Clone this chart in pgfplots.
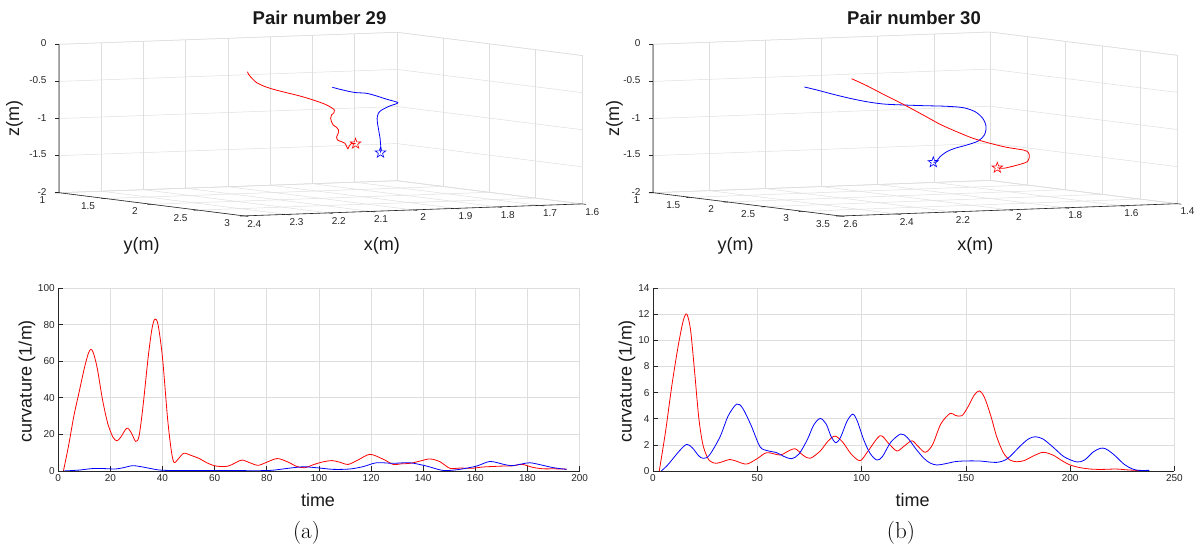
\documentclass[border=0pt]{standalone}
\usepackage{fontspec}
\setsansfont{Liberation Sans}
\usepackage{pgfplots}
\pgfplotsset{compat=1.18}
\definecolor{axgray}{RGB}{38,38,38}
\definecolor{gridgray}{RGB}{222,222,222}
\pgfdeclareplotmark{pstar}{%
  \pgfpathmoveto{\pgfpointpolar{90}{\pgfplotmarksize}}%
  \pgfpathlineto{\pgfpointpolar{126}{0.40\pgfplotmarksize}}%
  \pgfpathlineto{\pgfpointpolar{162}{\pgfplotmarksize}}%
  \pgfpathlineto{\pgfpointpolar{198}{0.40\pgfplotmarksize}}%
  \pgfpathlineto{\pgfpointpolar{234}{\pgfplotmarksize}}%
  \pgfpathlineto{\pgfpointpolar{270}{0.40\pgfplotmarksize}}%
  \pgfpathlineto{\pgfpointpolar{306}{\pgfplotmarksize}}%
  \pgfpathlineto{\pgfpointpolar{342}{0.40\pgfplotmarksize}}%
  \pgfpathlineto{\pgfpointpolar{18}{\pgfplotmarksize}}%
  \pgfpathlineto{\pgfpointpolar{54}{0.40\pgfplotmarksize}}%
  \pgfpathclose\pgfusepathqstroke}
\tikzset{tk/.style={axgray, line width=0.6pt}}
\pgfplotsset{
  my3d/.style={
    disabledatascaling,
    anchor=origin,
    grid=major, major grid style={gridgray, line width=0.5pt},
    axis line style={gridgray, line width=0.5pt},
    tick align=outside, major tick length=4pt,
    major tick style={draw=none},
    tick label style={font=\sffamily\fontsize{10}{12}\selectfont, text=axgray},
    zticklabel style={xshift=-5pt},
    yticklabel style={xshift=-6pt},
    /pgf/number format/assume math mode=true,
    zmin=-2, zmax=0, ztick={-2,-1.5,-1,-0.5,0},
    clip=false,
  },
  my2d/.style={
    scale only axis, anchor=south west,
    width=521.4pt, height=183pt,
    axis x line*=bottom, axis y line*=left,
    axis line style={axgray, line width=0.7pt, -},
    grid=major, major grid style={gridgray, line width=0.6pt},
    tick align=inside, major tick length=5pt,
    major tick style={axgray, line width=0.6pt},
    tick label style={font=\sffamily\fontsize{10}{12}\selectfont, text=axgray},
    /pgf/number format/assume math mode=true,
  },
  redline/.style={red, line width=0.8pt, smooth},
  blueline/.style={blue, line width=0.8pt, smooth},
}
\begin{document}
\begin{tikzpicture}[x=1pt,y=1pt]
\path[use as bounding box] (0,0) rectangle (1203,552);

% ---------------- top left 3D ----------------
\begin{axis}[my3d, at={(397pt,519.7pt)},
  x={(-422.5pt,-15pt)}, y={(92.5pt,-11.6pt)}, z={(0pt,74.2pt)},
  xmin=1.6, xmax=2.4, ymin=1, ymax=3,
  xtick={1.6,1.7,1.8,1.9,2,2.1,2.2,2.3,2.4},
  ytick={1,1.5,2,2.5,3}]
\addplot3[redline] coordinates {
(2.173,2,-0.259) (2.169,2,-0.304) (2.160,2,-0.364) (2.151,2,-0.411) (2.135,2,-0.459)
(2.112,2,-0.508) (2.080,2,-0.561) (2.049,2,-0.611) (2.017,2,-0.672) (1.989,2,-0.735)
(1.974,2,-0.784) (1.967,2,-0.817) (1.968,2,-0.853) (1.974,2,-0.883) (1.976,2,-0.927)
(1.974,2,-0.973) (1.970,2,-1.018) (1.962,2,-1.051) (1.957,2,-1.088) (1.958,2,-1.132)
(1.962,2,-1.186) (1.960,2,-1.222) (1.950,2,-1.247) (1.942,2,-1.270) (1.938,2,-1.317)
(1.935,2,-1.345) (1.932,2,-1.309) (1.926,2,-1.274) (1.917,2,-1.281)};
\addplot3[blueline] coordinates {
(1.972,2,-0.510) (1.954,2,-0.540) (1.930,2,-0.577) (1.914,2,-0.594) (1.891,2,-0.607)
(1.867,2,-0.648) (1.843,2,-0.697) (1.817,2,-0.749) (1.836,2,-0.789) (1.855,2,-0.839)
(1.863,2,-0.882) (1.866,2,-0.949) (1.865,2,-1.017) (1.863,2,-1.084) (1.861,2,-1.152)
(1.859,2,-1.220) (1.858,2,-1.288) (1.857,2,-1.355) (1.858,2,-1.414)};
\addplot3[red, only marks, mark=pstar, mark size=5.5pt, mark options={line width=0.6pt}] coordinates {(1.917,2,-1.281)};
\addplot3[blue, only marks, mark=pstar, mark size=5.5pt, mark options={line width=0.6pt}] coordinates {(1.858,2,-1.414)};
\draw[axgray, line width=0.6pt] (axis cs:2.4,1,0) -- (axis cs:2.4,1,-2) -- (axis cs:2.4,3,-2) -- (axis cs:1.6,3,-2);
\pgfplotsinvokeforeach{-2,-1.5,-1,-0.5,0}{\draw[tk] (axis cs:2.4,1,#1) -- ++(-4pt,0pt);}
\pgfplotsinvokeforeach{1,1.5,2,2.5,3}{\draw[tk] (axis cs:2.4,#1,-2) -- (axis cs:2.41,#1,-2);}
\pgfplotsinvokeforeach{1.6,1.7,1.8,1.9,2,2.1,2.2,2.3,2.4}{\draw[tk] (axis cs:#1,3,-2) -- (axis cs:#1,3.045,-2);}
\end{axis}

% ---------------- top right 3D ----------------
\begin{axis}[my3d, at={(990pt,520pt)},
  x={(-280.8pt,-10.25pt)}, y={(74.9pt,-9.32pt)}, z={(0pt,74.2pt)},
  xmin=1.4, xmax=2.6, ymin=1, ymax=3.5,
  xtick={1.4,1.6,1.8,2,2.2,2.4,2.6},
  ytick={1,1.5,2,2.5,3,3.5}]
\addplot3[blueline] coordinates {
(2.381,2.2,-0.455) (2.337,2.2,-0.501) (2.278,2.2,-0.568) (2.219,2.2,-0.630) (2.159,2.2,-0.684)
(2.100,2.2,-0.723) (2.029,2.2,-0.746) (1.958,2.2,-0.765) (1.874,2.2,-0.785) (1.815,2.2,-0.812)
(1.773,2.2,-0.872) (1.746,2.2,-0.965) (1.734,2.2,-1.079) (1.740,2.2,-1.190) (1.762,2.2,-1.268)
(1.803,2.2,-1.317) (1.845,2.2,-1.355) (1.874,2.2,-1.397) (1.898,2.2,-1.461) (1.912,2.2,-1.527)
(1.922,2.2,-1.533)};
\addplot3[redline] coordinates {
(2.213,2.2,-0.366) (2.159,2.2,-0.468) (2.100,2.2,-0.592) (2.029,2.2,-0.737) (1.958,2.2,-0.891)
(1.898,2.2,-1.024) (1.839,2.2,-1.132) (1.780,2.2,-1.230) (1.720,2.2,-1.305) (1.661,2.2,-1.367)
(1.601,2.2,-1.412) (1.584,2.2,-1.445) (1.580,2.2,-1.505) (1.587,2.2,-1.571) (1.613,2.2,-1.603)
(1.649,2.2,-1.634) (1.673,2.2,-1.649) (1.694,2.2,-1.638)};
\addplot3[red, only marks, mark=pstar, mark size=5.5pt, mark options={line width=0.6pt}] coordinates {(1.694,2.2,-1.638)};
\addplot3[blue, only marks, mark=pstar, mark size=5.5pt, mark options={line width=0.6pt}] coordinates {(1.922,2.2,-1.533)};
\draw[axgray, line width=0.6pt] (axis cs:2.6,1,0) -- (axis cs:2.6,1,-2) -- (axis cs:2.6,3.5,-2) -- (axis cs:1.4,3.5,-2);
\pgfplotsinvokeforeach{-2,-1.5,-1,-0.5,0}{\draw[tk] (axis cs:2.6,1,#1) -- ++(-4pt,0pt);}
\pgfplotsinvokeforeach{1,1.5,2,2.5,3,3.5}{\draw[tk] (axis cs:2.6,#1,-2) -- (axis cs:2.615,#1,-2);}
\pgfplotsinvokeforeach{1.4,1.6,1.8,2,2.2,2.4,2.6}{\draw[tk] (axis cs:#1,3.5,-2) -- (axis cs:#1,3.555,-2);}
\end{axis}

% ---------------- bottom left 2D ----------------
\begin{axis}[my2d, at={(58.2pt,81pt)},
  xmin=0, xmax=200, ymin=0, ymax=100,
  xtick={0,20,...,200}, ytick={0,20,...,100}]
\addplot[redline] coordinates {
(2,0) (4,14) (6,30) (8,43) (10,56) (11.5,64) (12.5,66.5) (13.5,64.5) (15,56) (17,39) (19,26)
(21,18.5) (22.5,16.5) (24,18.5) (26.3,23.4) (28,21) (29.7,16.2) (31,19) (32.5,35) (34.5,62)
(36,78) (37.1,83) (38.3,80) (40,62) (42,28) (43.5,10) (44.5,4.6) (46,6.5) (48.2,9.7) (51,8.5)
(54,6.9) (57,4.5) (60.5,2.7) (65,2.6) (68,4.5) (70.5,6) (73.5,4.5) (76.7,3.1) (80,4.8) (84,6.8)
(88,5) (91.5,2.5) (94.5,1.8) (98,3.5) (101,4.8) (105,5.7) (108,4.8) (111.2,3.6) (115,6)
(119.6,9.1) (124.7,6.4) (128.5,3.6) (131.5,3.9) (135,4.2) (139,5.5) (142.6,6.6) (146.4,5.1)
(150.2,1.5) (154,1.6) (159,1.5) (163,2.2) (170.7,2.7) (174,2.8) (178,3.6) (182,2) (186,1.2)
(190,1.2) (195,1)};
\addplot[blueline] coordinates {
(2,0) (8,0.5) (13,1.3) (18,1.3) (22,1.1) (25,1.8) (28.5,2.9) (32,2.3) (36,1.2) (40,0.4)
(50,0.2) (60,0.3) (70,0.2) (81,0.3) (88.9,1.6) (94,2.3) (99,1.8) (105.5,0.9) (111.9,1.1)
(117,2.4) (122.1,4.5) (128.5,4.2) (134.9,4.5) (141.3,2.7) (147.7,0.3) (154,0.9) (160.5,2.7)
(165.6,5.2) (170.7,3.7) (174,2.9) (178,3.9) (181,4.5) (185,3.4) (190,1.8) (195,0.9)};
\end{axis}

% ---------------- bottom right 2D ----------------
\begin{axis}[my2d, at={(653pt,81pt)},
  xmin=0, xmax=250, ymin=0, ymax=14,
  xtick={0,50,...,250}, ytick={0,2,...,14}]
\addplot[redline] coordinates {
(3,0) (6,3) (9,6.5) (12,9.5) (14.5,11.5) (16.2,12) (18,10.8) (20,7.5) (22,4) (24.1,1.9)
(27,0.8) (30.5,0.59) (34,0.75) (36.9,0.88) (40,0.75) (44.9,0.53) (50,0.95) (54.5,1.4)
(60.9,1.22) (64,1.45) (68.1,1.7) (72,1.2) (75.3,0.97) (80,1.5) (84,2.3) (87.3,2.67) (91,2.2)
(95,1.3) (99.3,0.79) (103,1.5) (108.9,2.7) (113,2.1) (116.9,1.53) (120,1.85) (124.1,2.31)
(127,1.9) (130.5,1.43) (134,2.0) (138,3.6) (142.5,4.41) (145,4.25) (148.1,4.23) (151,4.9)
(154,5.8) (156.5,6.13) (159,5.6) (162,4.2) (164.8,2.62) (168,1.4) (171,0.85) (174.4,0.71)
(178,0.8) (183,1.2) (187.2,1.43) (192,1.2) (196,0.8) (200,0.46) (205,0.25) (209.6,0.15)
(215,0.12) (222,0.15) (228,0.08) (237,0)};
\addplot[blueline] coordinates {
(4,0) (7,0.45) (9.7,0.97) (13,1.6) (16.2,2.04) (19,1.75) (22,1.15) (24.1,0.97) (27,1.2)
(32.1,2.6) (36,4.2) (40.1,5.12) (43,4.8) (47,3.5) (51.3,1.86) (55,1.55) (59.3,1.4) (63,1.1)
(66.5,0.94) (70,1.3) (74,2.4) (77,3.5) (80.1,4.02) (83,3.6) (85.5,2.6) (87.8,2.16) (90,2.6)
(93,3.8) (95.8,4.35) (98,3.8) (101,2.4) (104.1,1.35) (107.3,0.84) (110,1.1) (114,2.2)
(118.8,2.83) (122,2.55) (126,1.7) (130,0.95) (133,0.6) (136.1,0.46) (140,0.55) (145,0.72)
(150.5,0.77) (157,0.76) (164.8,0.66) (170,0.95) (176,1.9) (180,2.45) (183.2,2.62) (187,2.45)
(192,1.8) (197,1.1) (203.2,0.69) (207,0.85) (211,1.45) (214.4,1.73) (217,1.7) (221,1.25)
(226,0.5) (230,0.15) (233,0.05) (238,0.05)};
\end{axis}

% ---------------- texts ----------------
\begin{scope}[font=\sffamily\fontsize{18}{20}\selectfont, text=black!90]
\node[font=\sffamily\bfseries\fontsize{18.5}{21}\selectfont, anchor=base] at (319.5,527) {Pair number 29};
\node[font=\sffamily\bfseries\fontsize{18.5}{21}\selectfont, anchor=base] at (914,527) {Pair number 30};
\node[rotate=90] at (14.4,433) {z(m)};
\node at (141.7,306) {y(m)};
\node at (381.8,306) {x(m)};
\node[rotate=90] at (614.4,433) {z(m)};
\node at (735.6,306) {y(m)};
\node at (975.4,306) {x(m)};
\node[rotate=90] at (27,171) {curvature (1/m)};
\node[rotate=90] at (627,171) {curvature (1/m)};
\node at (318,52) {time};
\node at (912.7,52) {time};
\end{scope}
\node[font=\rmfamily\fontsize{23}{26}\selectfont] at (306.5,19) {(a)};
\node[font=\rmfamily\fontsize{23}{26}\selectfont] at (901,19) {(b)};
\end{tikzpicture}
\end{document}
